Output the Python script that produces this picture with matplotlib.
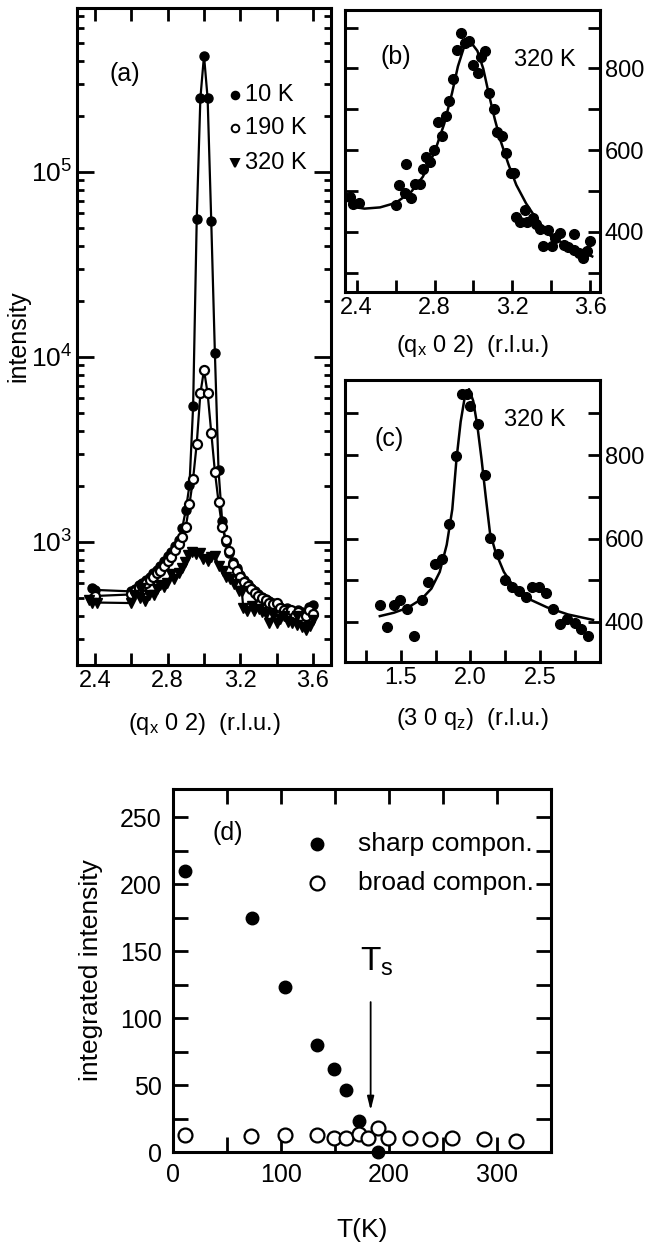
import matplotlib
matplotlib.use("Agg")
import matplotlib.pyplot as plt
from matplotlib.ticker import MultipleLocator, LogLocator, NullFormatter

plt.rcParams['font.family'] = ['Liberation Sans', 'DejaVu Sans']
plt.rcParams['mathtext.fontset'] = 'custom'
plt.rcParams['mathtext.rm'] = 'Liberation Sans'
plt.rcParams['mathtext.it'] = 'Liberation Sans'

# ---- panel (a): (qx 0 2) scans at three temperatures ----
qx_a = [2.38, 2.40,
        2.60, 2.62, 2.64, 2.66, 2.68, 2.70, 2.72, 2.74, 2.76, 2.78,
        2.80, 2.82, 2.84, 2.86, 2.88, 2.90, 2.92, 2.94, 2.96, 2.98,
        3.00, 3.02, 3.04, 3.06, 3.08, 3.10, 3.12, 3.14, 3.16, 3.18,
        3.20, 3.22, 3.24, 3.26, 3.28, 3.30, 3.32, 3.34, 3.36, 3.38,
        3.40, 3.42, 3.44, 3.46, 3.48, 3.50, 3.52, 3.54, 3.56, 3.58, 3.60]
I_10K = [560, 550,
         540, 555, 585, 600, 625, 650, 675, 705, 740, 790,
         835, 880, 950, 1020, 1190, 1490, 2030, 5400, 56000, 250000,
         426000, 250000, 54000, 10500, 2450, 1300, 1000, 870, 780, 720,
         660, 625, 590, 565, 545, 520, 505, 490, 480, 465,
         455, 445, 430, 440, 420, 410, 430, 420, 415, 445, 455]
I_190K = [490, 510,
          520, 540, 560, 575, 600, 620, 650, 680, 700, 740,
          790, 830, 900, 980, 1060, 1210, 1600, 2200, 3400, 6350,
          8500, 6350, 3900, 2400, 1650, 1200, 1030, 890, 760, 700,
          650, 610, 580, 555, 530, 510, 500, 485, 470, 460,
          470, 440, 430, 420, 430, 400, 420, 390, 400, 430, 410]

# ---- panel (b): 320 K, (qx 0 2) scan (also used in (a)) ----
qx_b = [2.366, 2.383, 2.412, 2.600, 2.616, 2.647, 2.655, 2.677, 2.698, 2.723,
        2.740, 2.757, 2.779, 2.796, 2.820, 2.837, 2.860, 2.876, 2.893, 2.914,
        2.936, 2.957, 2.979, 2.996, 3.021, 3.038, 3.060, 3.081, 3.106, 3.123,
        3.144, 3.166, 3.192, 3.208, 3.217, 3.239, 3.263, 3.276, 3.305, 3.319,
        3.341, 3.358, 3.382, 3.404, 3.421, 3.443, 3.464, 3.484, 3.515, 3.515,
        3.540, 3.562, 3.583, 3.600]
I_b = [486, 468, 470, 467, 514, 495, 566, 482, 518, 517,
       554, 583, 570, 600, 669, 634, 683, 720, 775, 846,
       887, 863, 867, 808, 789, 827, 842, 740, 700, 645,
       634, 592, 545, 545, 437, 425, 453, 425, 435, 420,
       408, 365, 404, 365, 384, 397, 367, 363, 396, 355,
       348, 335, 353, 377]
fit_qx_b = [2.375, 2.44, 2.52, 2.60, 2.68, 2.74, 2.80, 2.85, 2.89, 2.92, 2.95, 2.97, 2.99,
            3.02, 3.05, 3.08, 3.11, 3.14, 3.18, 3.22, 3.27, 3.33, 3.40, 3.47, 3.54, 3.61]
fit_I_b = [462, 457, 460, 471, 498, 535, 595, 665, 740, 805, 850, 865, 862,
           843, 800, 735, 675, 622, 565, 515, 470, 427, 388, 370, 356, 340]

# ---- panel (c): 320 K, (3 0 qz) scan ----
qz_c = [1.348, 1.404, 1.452, 1.498, 1.548, 1.596, 1.650, 1.697, 1.745, 1.798,
        1.849, 1.897, 1.940, 1.975, 1.995, 2.051, 2.102, 2.143, 2.196, 2.246,
        2.295, 2.348, 2.396, 2.439, 2.492, 2.545, 2.593, 2.642, 2.690, 2.748,
        2.795, 2.846]
I_c = [440, 389, 440, 453, 432, 366, 453, 496, 540, 550,
       634, 798, 947, 947, 918, 874, 752, 602, 564, 500,
       484, 474, 461, 484, 484, 470, 432, 394, 408, 398,
       384, 366]
fit_qz_c = [1.35, 1.45, 1.55, 1.65, 1.72, 1.78, 1.83, 1.87, 1.90, 1.93, 1.96, 1.99,
            2.02, 2.05, 2.08, 2.11, 2.14, 2.18, 2.24, 2.32, 2.42, 2.55, 2.70, 2.88]
fit_I_c = [414, 422, 434, 455, 480, 520, 585, 670, 790, 880, 940, 958,
           930, 870, 790, 700, 615, 568, 520, 480, 455, 435, 418, 405]

# ---- panel (d): integrated intensities vs T ----
T_sharp = [11, 73, 104, 133, 149, 160, 172, 190]
I_sharp = [210, 175, 123, 80, 62, 46, 23, 0]
T_broad = [11, 72, 104, 133, 149, 160, 172, 181, 190, 199, 219, 238, 258, 288, 318]
I_broad = [12.5, 12, 13, 12.5, 10.7, 10.7, 13.7, 10.7, 18, 10.7, 10.7, 10, 10.7, 9.5, 8.2]

W, H = 655, 1242
fig = plt.figure(figsize=(W / 100, H / 100), dpi=100)


def box(l, r, t, b):
    return [l / W, (H - b) / H, (r - l) / W, (b - t) / H]


def style(ax, fs=17):
    for s in ax.spines.values():
        s.set_linewidth(2.2)
    ax.tick_params(which='both', direction='in', width=2, labelsize=fs)
    ax.tick_params(which='major', length=9)
    ax.tick_params(which='minor', length=5)


xlab = r'(q$_\mathregular{x}$ 0 2)  (r.l.u.)'

# (a)
ax = fig.add_axes(box(77, 331, 8, 665))
ax.set_yscale('log')
ax.plot(qx_a, I_10K, '-', color='k', lw=1.6, marker='o', ms=6.5, mfc='k', mec='k')
ax.plot(qx_a, I_190K, '-', color='k', lw=1.6, marker='o', ms=6.5, mfc='white', mec='k', mew=1.6)
ax.plot(qx_b, I_b, '-', color='k', lw=1.6, marker='v', ms=6.5, mfc='k', mec='k')
ax.set_xlim(2.3, 3.7)
ax.set_ylim(216, 7.7e5)
ax.xaxis.set_major_locator(MultipleLocator(0.4))
ax.xaxis.set_minor_locator(MultipleLocator(0.2))
ax.yaxis.set_major_locator(LogLocator(base=10))
ax.yaxis.set_minor_locator(LogLocator(base=10, subs=range(2, 10)))
ax.yaxis.set_minor_formatter(NullFormatter())
style(ax)
ax.tick_params(which='both', top=True, right=True)
ax.tick_params(axis='y', which='major', labelsize=19, length=12)
ax.tick_params(axis='x', which='minor', length=9)
ax.set_xlabel(xlab, fontsize=17, labelpad=14)
ax.set_ylabel('intensity', fontsize=18, labelpad=0)
ax.text(2.48, 3.4e5, '(a)', fontsize=18, va='center')
leg = [('10 K', 2.6e5, 'o', 'k'), ('190 K', 1.73e5, 'o', 'white'), ('320 K', 1.12e5, 'v', 'k')]
for lab, yv, mk, fc in leg:
    ax.plot([3.17], [yv], marker=mk, ms=5.5, mfc=fc, mec='k', mew=1.4, ls='none')
    ax.text(3.225, yv, lab, fontsize=17, va='center')

# (b)
ax = fig.add_axes(box(345, 600, 10, 292))
ax.plot(qx_b, I_b, 'o', color='k', ms=7)
ax.plot(fit_qx_b, fit_I_b, '-', color='k', lw=1.8)
ax.set_xlim(2.34, 3.65)
ax.set_ylim(253, 943)
ax.xaxis.set_major_locator(MultipleLocator(0.4))
ax.xaxis.set_minor_locator(MultipleLocator(0.2))
ax.yaxis.set_major_locator(MultipleLocator(200))
ax.yaxis.set_minor_locator(MultipleLocator(100))
style(ax)
ax.tick_params(axis='y', which='both', left=True, right=True, labelleft=False, labelright=True, length=9)
ax.tick_params(axis='x', which='minor', length=9)
ax.set_xlabel(xlab, fontsize=17, labelpad=10)
ax.text(2.52, 828, '(b)', fontsize=18, va='center')
ax.text(3.21, 820, '320 K', fontsize=17, va='center')

# (c)
ax = fig.add_axes(box(345, 600, 380, 662))
ax.plot(qz_c, I_c, 'o', color='k', ms=7)
ax.plot(fit_qz_c, fit_I_c, '-', color='k', lw=1.8)
ax.set_xlim(1.1, 2.93)
ax.set_ylim(304, 980)
ax.xaxis.set_major_locator(MultipleLocator(0.5))
ax.xaxis.set_minor_locator(MultipleLocator(0.25))
ax.yaxis.set_major_locator(MultipleLocator(200))
ax.yaxis.set_minor_locator(MultipleLocator(100))
style(ax)
ax.tick_params(axis='y', which='both', left=True, right=True, labelleft=False, labelright=True, length=9)
ax.tick_params(axis='x', which='minor', length=9)
ax.set_xlabel(r'(3 0 q$_\mathregular{z}$)  (r.l.u.)', fontsize=17, labelpad=12)
ax.text(1.31, 838, '(c)', fontsize=18, va='center')
ax.text(2.24, 883, '320 K', fontsize=17, va='center')

# (d)
ax = fig.add_axes(box(173, 551, 789, 1152))
ax.plot(T_sharp, I_sharp, 'o', color='k', ms=9, ls='none', clip_on=False)
ax.plot(T_broad, I_broad, 'o', mfc='white', mec='k', mew=1.6, ms=10, ls='none', clip_on=False)
ax.set_xlim(0, 350)
ax.set_ylim(0, 271)
ax.xaxis.set_major_locator(MultipleLocator(100))
ax.xaxis.set_minor_locator(MultipleLocator(50))
ax.yaxis.set_major_locator(MultipleLocator(50))
ax.yaxis.set_minor_locator(MultipleLocator(25))
style(ax, fs=18)
ax.tick_params(which='both', top=True, right=True, length=11)
ax.tick_params(axis='both', which='major', pad=8)
ax.set_xlabel('T(K)', fontsize=19, labelpad=22)
ax.set_ylabel('integrated intensity', fontsize=19, labelpad=12)
ax.text(37, 238, '(d)', fontsize=18, va='center')
ax.plot([133], [230], 'o', color='k', ms=9)
ax.plot([133], [201], 'o', mfc='white', mec='k', mew=1.6, ms=10)
ax.text(171, 230, 'sharp compon.', fontsize=19, va='center')
ax.text(171, 201, 'broad compon.', fontsize=19, va='center')
ax.annotate('', xy=(183, 29), xytext=(183, 114),
            arrowprops=dict(arrowstyle='-|>,head_length=0.8,head_width=0.2', color='k', lw=1.3))
ax.text(189, 130, r'T$_\mathregular{s}$', fontsize=24, ha='center', va='bottom')

fig.savefig('out.png', dpi=100)
